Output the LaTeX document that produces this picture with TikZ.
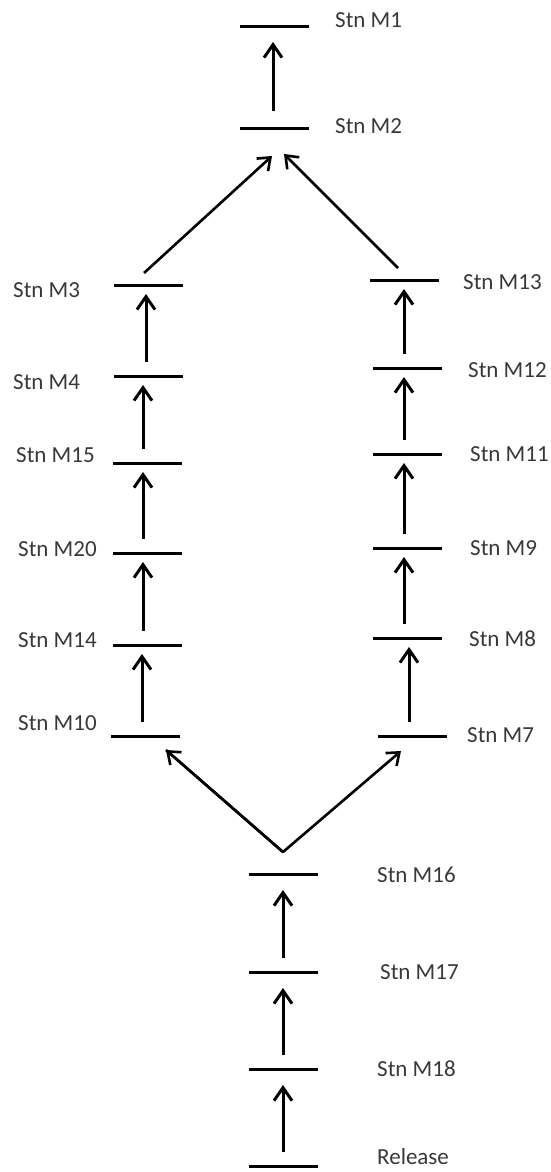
\documentclass[tikz,border=0pt]{standalone}
\usepackage{fontspec}
\setmainfont{Carlito}
\usetikzlibrary{arrows.meta}
\definecolor{txt}{gray}{0.22}
\tikzset{
  bar/.style={fill=black,inner sep=0pt,minimum width=69pt,minimum height=3pt,draw=none},
  lbl/.style={anchor=west,inner sep=0pt,text=txt,font=\fontsize{23}{26}\selectfont},
  arr/.style={line width=3pt,-{Straight Barb[length=13pt,width=18pt]}},
  darr/.style={line width=2.6pt,-{Straight Barb[length=11pt,width=17pt]}}
}
\begin{document}
\begin{tikzpicture}[x=1pt,y=-1pt]
\useasboundingbox (0,0) rectangle (550,1172);
% bars
\node[bar] (m1) at (274,27) {};
\node[bar] (m2) at (274,128) {};
\node[bar] (m3) at (148,285) {};
\node[bar] (m4) at (148,376) {};
\node[bar] (m15) at (147,463) {};
\node[bar] (m20) at (147,553) {};
\node[bar] (m14) at (147,645) {};
\node[bar] (m10) at (145,736) {};
\node[bar] (m13) at (404,280) {};
\node[bar] (m12) at (407,368) {};
\node[bar] (m11) at (407,454) {};
\node[bar] (m9) at (407,548) {};
\node[bar] (m8) at (407,638) {};
\node[bar] (m7) at (412,736) {};
\node[bar] (m16) at (283,874) {};
\node[bar] (m17) at (283,972) {};
\node[bar] (m18) at (283,1069) {};
\node[bar] (rel) at (283,1166) {};
% labels
\node[lbl] (l1) at (335,20) {Stn M1};
\node[lbl] (l2) at (335,126) {Stn M2};
\node[lbl] (l3) at (13,290) {Stn M3};
\node[lbl] (l4) at (13,382) {Stn M4};
\node[lbl] (l15) at (16,455) {Stn M15};
\node[lbl] (l20) at (18,549) {Stn M20};
\node[lbl] (l14) at (18,640) {Stn M14};
\node[lbl] (l10) at (18,723) {Stn M10};
\node[lbl] (l13) at (463,282) {Stn M13};
\node[lbl] (l12) at (468,370) {Stn M12};
\node[lbl] (l11) at (470,454) {Stn M11};
\node[lbl] (l9) at (470,548) {Stn M9};
\node[lbl] (l8) at (469,639) {Stn M8};
\node[lbl] (l7) at (467,735) {Stn M7};
\node[lbl] (l16) at (377,875) {Stn M16};
\node[lbl] (l17) at (380,972) {Stn M17};
\node[lbl] (l18) at (377,1069) {Stn M18};
\node[lbl] (lr) at (377,1157) {Release};
% vertical arrows
\draw[arr,shorten <=17pt,shorten >=15pt] ([xshift=-1pt]m2.center) -- ([xshift=-1pt]m1.center);
\draw[arr,shorten <=14pt,shorten >=9pt] ([xshift=-2pt]m4.center) -- ([xshift=-2pt]m3.center);
\draw[arr,shorten <=14pt,shorten >=9pt] ([xshift=-4pt]m15.center) -- ([xshift=-5pt]m4.center);
\draw[arr,shorten <=14pt,shorten >=9pt] ([xshift=-4pt]m20.center) -- ([xshift=-4pt]m15.center);
\draw[arr,shorten <=14pt,shorten >=9pt] ([xshift=-4pt]m14.center) -- ([xshift=-4pt]m20.center);
\draw[arr,shorten <=14pt,shorten >=9pt] ([xshift=-3pt]m10.center) -- ([xshift=-5pt]m14.center);
\draw[arr,shorten <=14pt,shorten >=9pt] ([xshift=-3pt]m12.center) -- ([xshift=0pt]m13.center);
\draw[arr,shorten <=14pt,shorten >=9pt] ([xshift=-3pt]m11.center) -- ([xshift=-3pt]m12.center);
\draw[arr,shorten <=14pt,shorten >=9pt] ([xshift=-3pt]m9.center) -- ([xshift=-3pt]m11.center);
\draw[arr,shorten <=14pt,shorten >=9pt] ([xshift=-3pt]m8.center) -- ([xshift=-3pt]m9.center);
\draw[arr,shorten <=14pt,shorten >=9pt] ([xshift=-3pt]m7.center) -- ([xshift=2pt]m8.center);
\draw[arr,shorten <=14pt,shorten >=16pt] (m17.center) -- (m16.center);
\draw[arr,shorten <=14pt,shorten >=16pt] (m18.center) -- (m17.center);
\draw[arr,shorten <=14pt,shorten >=16pt] (rel.center) -- (m18.center);
% diagonal arrows
\coordinate (tl) at (144,273);
\coordinate (tr) at (398,268);
\coordinate (tlend) at (272,156);
\coordinate (trend) at (284,154);
\coordinate (v) at (283,852);
\coordinate (bl) at (166,750);
\coordinate (br) at (401,751);
\draw[darr] (tl) -- (tlend);
\draw[darr] (tr) -- (trend);
\draw[darr,line join=round] (bl) -- (v) -- (br);
\draw[darr] (v) -- (bl);
\end{tikzpicture}
\end{document}
